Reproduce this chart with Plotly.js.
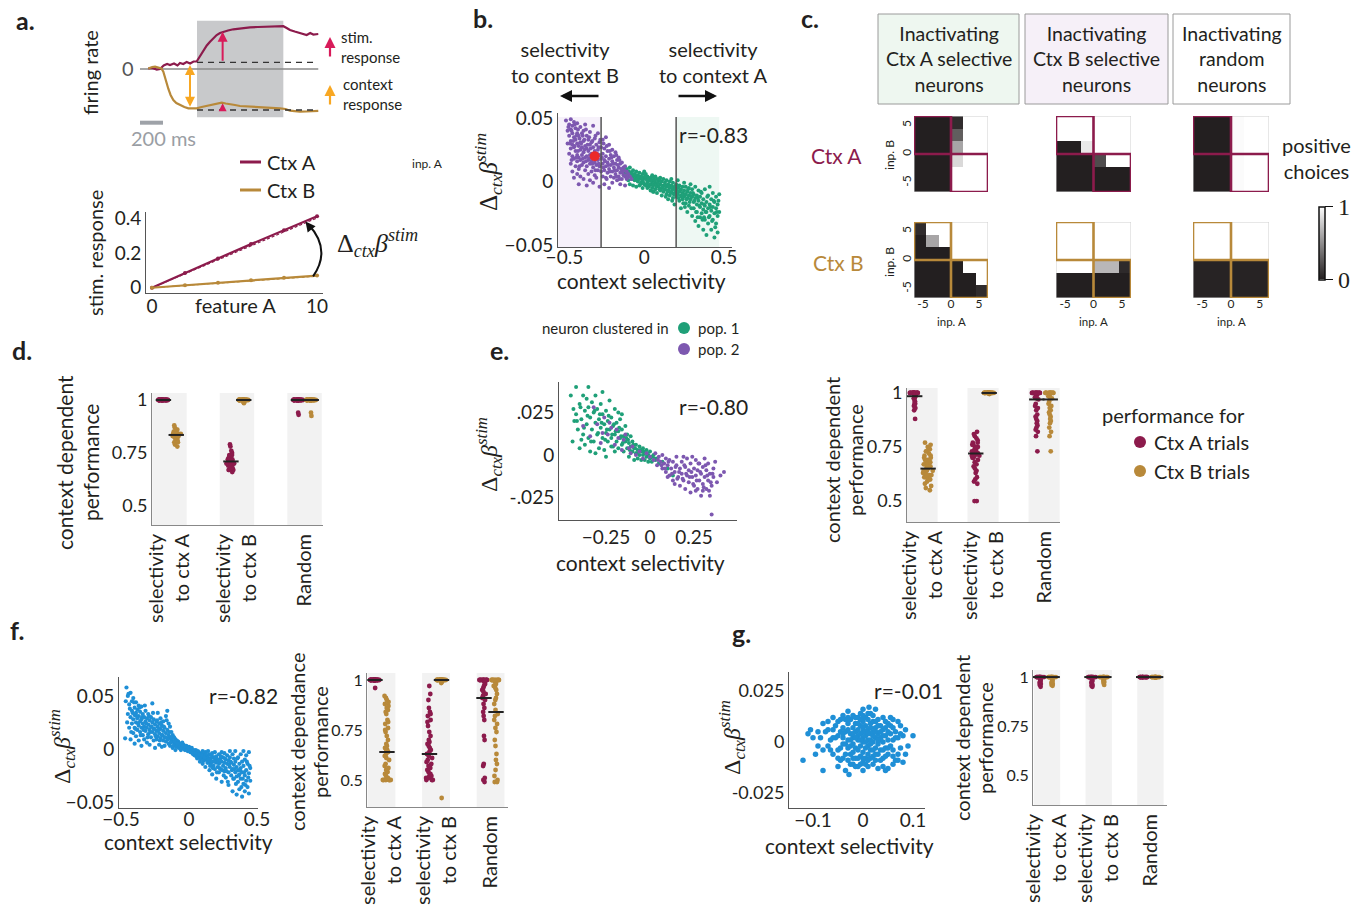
<!DOCTYPE html>
<html><head><meta charset="utf-8">
<script src="https://cdn.plot.ly/plotly-3.0.1.min.js"></script>
<style>html,body{margin:0;padding:0;background:#fff}#chart{width:1368px;height:910px}</style>
</head><body><div id="chart"></div>
<script>
// ---------------- DATA ----------------
// a (top): population firing rate (t in ms, stimulus onset at 0)
const tCtxA = [-424,-390,-350,-322,-290,-260,-235,-200,-170,-148,-120,-90,-60,-30,-3,25,55,85,113,142,171,200,229,270,316,380,461,530,606,660,722,751,780,809,850,896,925,954,985,1012,1055];
const rateCtxA = [0.05,0.1,-0.05,0.0,0.35,0.5,0.4,0.55,0.35,0.6,0.5,0.7,0.55,0.75,0.75,1.3,1.9,2.35,2.73,3.1,3.4,3.6,3.73,3.85,3.97,4.07,4.17,4.2,4.23,4.27,4.3,4.28,4.1,3.9,3.75,3.57,3.45,3.4,3.6,3.45,3.5];
const tCtxB = [-424,-390,-365,-330,-310,-293,-278,-263,-249,-230,-206,-180,-148,-110,-75,-40,-3,40,84,130,171,215,250,287,330,374,460,548,640,722,770,809,850,896,950,1000,1041,1055];
const rateCtxB = [0.05,0.2,0.23,0.1,0.05,-0.27,-0.9,-1.43,-2.0,-2.6,-3.1,-3.4,-3.6,-3.8,-3.93,-3.95,-3.93,-3.8,-3.7,-3.55,-3.43,-3.37,-3.45,-3.5,-3.6,-3.7,-3.75,-3.77,-3.85,-3.93,-4.0,-4.17,-4.22,-4.27,-4.25,-4.2,-4.2,-4.18];
const baseCtxA = 0.67, baseCtxB = -4.1;
// a (bottom): stimulus response vs feature A
const featA = [0,2,4,6,8,10];
const stimRespA = [0,0.085,0.168,0.25,0.33,0.41];
const stimRespB = [0,0.014,0.029,0.043,0.057,0.07];
const fitX = [0,10];
const fitA = [0,0.40];
const fitB = [0,0.066];

// b: context selectivity vs Δctx β_stim
const bPop2 = [[-.49,.048],[-.48,.04],[-.48,.03],[-.47,.045],[-.47,.036],[-.47,.022],[-.46,.049],[-.46,.041],[-.46,.032],[-.46,.026],[-.46,.014],[-.45,.044],[-.45,.038],[-.45,.029],[-.45,.02],[-.45,.008],[-.44,.047],[-.44,.035],[-.44,.027],[-.44,.018],[-.44,.003],
[-.43,.042],[-.43,.033],[-.43,.024],[-.43,.012],[-.42,.046],[-.42,.038],[-.42,.03],[-.42,.021],[-.42,.016],[-.42,.006],[-.41,.036],[-.41,.028],[-.41,.019],[-.41,.01],[-.41,-.002],[-.40,.043],[-.40,.031],[-.40,.025],[-.40,.017],[-.40,.004],[-.39,.038],[-.39,.027],[-.39,.021],[-.39,.013],
[-.38,.04],[-.38,.032],[-.38,.023],[-.38,.015],[-.38,.002],[-.37,.045],[-.37,.028],[-.37,.019],[-.37,.009],[-.36,.036],[-.36,.026],[-.36,.02],[-.36,.012],[-.36,-.003],[-.35,.033],[-.35,.024],[-.35,.017],[-.35,.006],[-.34,.039],[-.34,.029],[-.34,.021],[-.34,.014],[-.34,.001],[-.33,.031],[-.33,.022],[-.33,.016],[-.33,.008],
[-.32,.044],[-.32,.027],[-.32,.019],[-.32,.011],[-.32,-.001],[-.31,.034],[-.31,.024],[-.31,.015],[-.31,.005],[-.30,.029],[-.30,.02],[-.30,.013],[-.30,.003],[-.29,.038],[-.29,.025],[-.29,.017],[-.29,.009],[-.28,.031],[-.28,.021],[-.28,.012],[-.28,-.004],[-.27,.027],[-.27,.018],[-.27,.008],
[-.26,.033],[-.26,.022],[-.26,.014],[-.26,.004],[-.25,.026],[-.25,.017],[-.25,.009],[-.25,-.002],[-.24,.035],[-.24,.02],[-.24,.012],[-.24,.003],[-.23,.024],[-.23,.015],[-.23,.007],[-.22,.029],[-.22,.018],[-.22,.01],[-.22,-.005],[-.21,.021],[-.21,.013],[-.21,.004],[-.20,.025],[-.20,.016],[-.20,.008],[-.20,-.001],
[-.19,.02],[-.19,.011],[-.19,.003],[-.18,.023],[-.18,.014],[-.18,.006],[-.17,.017],[-.17,.009],[-.17,.001],[-.16,.019],[-.16,.011],[-.16,.004],[-.15,.014],[-.15,.007],[-.15,-.002],[-.14,.015],[-.14,.008],[-.14,.002],[-.13,.011],[-.13,.005],[-.12,.012],[-.12,.004],[-.12,-.003],[-.11,.008],[-.11,.002],[-.10,.006],[-.09,.004],[-.08,.002],
[-.475,.043],[-.465,.03],[-.455,.04],[-.455,.017],[-.445,.032],[-.435,.045],[-.435,.028],[-.425,.036],[-.425,.019],[-.415,.041],[-.415,.024],[-.405,.034],[-.405,.012],[-.395,.03],[-.385,.036],[-.385,.018],[-.375,.025],[-.375,.033],[-.365,.041],[-.365,.016],[-.355,.029],[-.345,.035],[-.345,.018],[-.335,.026],[-.325,.032],[-.325,.014],[-.315,.021],[-.305,.036],[-.305,.009],[-.295,.022],[-.285,.027],[-.285,.014],[-.275,.033],[-.265,.019],[-.255,.03],[-.255,.011],[-.245,.016],[-.235,.028],[-.235,.002],[-.225,.013],[-.215,.024],[-.215,.008],[-.205,.019],[-.195,.014],[-.185,.009],[-.175,.021],[-.175,.004],[-.165,.013],[-.155,.017],[-.155,.002],[-.145,.01],[-.135,.007],[-.125,.009],[-.115,.005],[-.105,.003]];
const bPop1 = [[-.12,.006],[-.11,.01],[-.11,.003],[-.10,.008],[-.10,.001],[-.09,.011],[-.09,.005],[-.09,-.002],[-.08,.007],[-.08,.002],[-.07,.009],[-.07,.004],[-.07,-.003],[-.06,.006],[-.06,.001],[-.05,.008],[-.05,.003],[-.05,-.004],
[-.04,.005],[-.04,0],[-.03,.007],[-.03,.002],[-.03,-.003],[-.02,.004],[-.02,-.001],[-.01,.006],[-.01,.001],[-.01,-.005],[0,.003],[0,-.002],[0,.008],[.01,.002],[.01,-.003],[.01,.006],[.02,0],[.02,-.005],[.02,.004],[.03,.001],[.03,-.004],[.04,.003],[.04,-.002],[.04,-.007],[.05,0],[.05,-.005],[.05,.005],
[.06,-.002],[.06,.003],[.06,-.008],[.07,-.001],[.07,-.006],[.07,.004],[.08,-.003],[.08,.002],[.08,-.009],[.09,-.004],[.09,.001],[.10,-.002],[.10,-.007],[.10,.003],[.11,-.005],[.11,0],[.11,-.011],[.12,-.003],[.12,-.008],[.12,.002],[.13,-.006],[.13,-.001],[.14,-.004],[.14,-.01],[.14,.001],[.15,-.007],[.15,-.002],[.15,-.014],
[.16,-.005],[.16,0],[.16,-.011],[.17,-.008],[.17,-.003],[.17,.002],[.18,-.006],[.18,-.013],[.18,-.001],[.19,-.009],[.19,-.004],[.19,-.018],[.2,-.007],[.2,-.002],[.2,-.012],[.21,-.01],[.21,-.005],[.21,.001],[.22,-.008],[.22,-.015],[.22,-.003],[.23,-.011],[.23,-.006],[.23,-.021],[.24,-.009],[.24,-.004],[.24,-.014],[.25,-.012],[.25,-.007],[.25,-.001],
[.26,-.01],[.26,-.017],[.26,-.004],[.27,-.013],[.27,-.008],[.27,-.024],[.28,-.011],[.28,-.005],[.28,-.019],[.29,-.014],[.29,-.009],[.29,-.002],[.3,-.012],[.3,-.027],[.3,-.006],[.31,-.016],[.31,-.01],[.31,-.021],[.32,-.013],[.32,-.004],[.32,-.031],[.33,-.018],[.33,-.011],[.33,-.024],[.34,-.015],[.34,-.007],[.34,-.035],[.35,-.02],[.35,-.012],[.35,-.028],
[.36,-.017],[.36,-.009],[.36,-.025],[.37,-.022],[.37,-.014],[.37,-.038],[.38,-.019],[.38,-.006],[.38,-.03],[.39,-.016],[.39,-.024],[.39,-.042],[.4,-.021],[.4,-.011],[.4,-.033],[.41,-.018],[.41,-.027],[.41,-.004],[.42,-.023],[.42,-.014],[.42,-.038],[.43,-.02],[.43,-.03],[.43,-.009],[.44,-.025],[.44,-.016],[.44,-.044],[.45,-.021],[.45,-.033],[.45,-.012],[.46,-.027],[.46,-.018],[.46,-.04],[.47,-.024],[.47,-.01],
[-.115,.007],[-.095,.008],[-.085,.004],[-.075,.006],[-.065,.002],[-.055,.005],[-.045,.002],[-.035,.004],[-.025,-.002],[-.015,.003],[-.005,-.001],[.005,.004],[.015,-.002],[.025,.002],[.035,-.002],[.045,.001],[.055,-.003],[.065,.001],[.075,-.004],[.085,-.001],[.095,-.006],[.105,0],[.115,-.004],[.125,-.006],[.135,-.003],[.145,-.008],[.155,-.004],[.165,-.009],[.175,-.005],[.185,-.01],[.195,-.006],[.205,-.009],[.215,-.013],[.225,-.007],[.235,-.012],[.245,-.017],[.255,-.01],[.265,-.014],[.275,-.006],[.285,-.016],[.295,-.021],[.305,-.009],[.315,-.015],[.325,-.024],[.335,-.013],[.345,-.019],[.355,-.008],[.365,-.03],[.375,-.018],[.385,-.024],[.395,-.012],[.405,-.028],[.415,-.02],[.425,-.031],[.435,-.015],[.445,-.036],[.455,-.024],[.465,-.015],[.375,-.028],[.335,-.028],[.295,-.012],[.255,-.02],[.215,-.004],[.175,-.015],[.135,-.012],[.095,.002],[.055,-.008]];
const bExample = [[-0.31,0.020]];
const bThresh = [-0.27, 0.20];

// c: fraction of positive choices (rows: inp. B from -5.5 to 5.5, cols: inp. A from -5.5 to 5.5)
const inpGrid = [-5.5,-3.3,-1.1,1.1,3.3,5.5];
const hmCtxA_inactA = [[0,0,0,1,1,1],[0,0,0,1,1,1],[0,0,0,.83,1,1],[0,0,0,.6,1,1],[0,0,0,.28,1,1],[0,0,0,.06,1,1]];
const hmCtxA_inactB = [[0,0,0,0,0,0],[0,0,0,0,0,0],[0,0,0,.2,1,1],[0,0,.9,1,1,1],[1,1,1,1,1,1],[1,1,1,1,1,1]];
const hmCtxA_random = [[0,0,0,.98,1,1],[0,0,0,.98,1,1],[0,0,0,.98,1,1],[0,0,0,.98,1,1],[0,0,0,.98,1,1],[0,0,0,.98,1,1]];
const hmCtxB_inactA = [[0,0,0,0,0,.06],[0,0,0,0,0,1],[0,0,0,0,1,1],[0,0,0,1,1,1],[0,.6,1,1,1,1],[.06,1,1,1,1,1]];
const hmCtxB_inactB = [[0,0,0,0,0,0],[0,0,0,0,0,0],[1,1,1,.68,.68,.05],[1,1,1,1,1,1],[1,1,1,1,1,1],[1,1,1,1,1,1]];
const hmCtxB_random = [[.02,.02,.02,.02,.02,.02],[.02,.02,.02,.02,.02,.02],[.02,.02,.02,.02,.02,.02],[1,1,1,1,1,1],[1,1,1,1,1,1],[1,1,1,1,1,1]];
const headerTexts = ['Inactivating<br>Ctx A selective<br>neurons','Inactivating<br>Ctx B selective<br>neurons','Inactivating<br>random<br>neurons'];

// strip plots: categories
const groupLabels = ['selectivity<br>to ctx A','selectivity<br>to ctx B','Random'];
// d
const dCtxA = [[1,1,1,1,1,1,1,1,1,1,1,1,1,1,1,1,1,1,1,1,1,1,1,1,1,1,1,1,1,1],
 [0.79,0.78,0.76,0.75,0.74,0.73,0.72,0.72,0.71,0.71,0.70,0.70,0.69,0.69,0.68,0.68,0.67,0.67,0.66,0.70,0.71,0.72,0.73,0.70,0.69,0.68,0.71,0.74,0.72,0.70,0.67,0.69,0.71,0.73,0.68,0.70],
 [1,1,1,1,1,1,1,1,1,1,1,1,1,1,1,1,1,1,1,1,1,1,1,1,1,1,1,1,1,1,0.93,0.94]];
const dCtxB = [[0.86,0.85,0.84,0.83,0.84,0.82,0.83,0.85,0.87,0.88,0.84,0.83,0.82,0.81,0.80,0.79,0.78,0.84,0.83,0.85,0.86,0.84,0.83,0.82,0.84,0.85,0.83,0.80,0.81,0.84],
 [1,1,1,1,1,1,1,1,1,1,1,1,1,1,1,1,1,1,1,1,1,1,1,1,1,1,1,1,1,1,0.985,0.99],
 [1,1,1,1,1,1,1,1,1,1,1,1,1,1,1,1,1,1,1,1,1,1,1,1,1,1,1,1,1,1,0.94,0.925]];
const dMedA = [1,0.71,1], dMedB = [0.835,1,1];
// e
const ePop1 = [[-.45,.035],[-.44,.008],[-.42,.04],[-.42,.024],[-.41,.015],[-.40,.03],[-.40,.004],[-.39,.021],[-.38,.035],[-.38,.012],[-.37,.026],[-.37,.006],[-.36,.033],[-.36,.018],[-.35,.028],[-.35,.01],[-.34,.022],[-.34,.002],[-.33,.031],[-.33,.015],[-.32,.025],[-.32,.008],[-.31,.019],[-.31,.035],[-.30,.012],[-.30,.027],[-.29,.021],[-.29,.004],[-.28,.016],[-.28,.03],[-.27,.01],[-.27,.024],[-.26,.018],[-.26,.003],[-.25,.013],[-.25,.026],[-.24,.008],[-.24,.02],[-.23,.015],[-.23,.032],[-.22,.01],[-.22,.022],[-.21,.005],[-.21,.017],[-.2,.012],[-.2,.027],[-.19,.008],[-.19,.019],[-.18,.004],[-.18,.014],[-.17,.01],[-.17,.021],[-.16,.006],[-.16,.015],[-.15,.002],[-.15,.011],[-.14,.008],[-.14,.017],[-.13,.004],[-.13,.012],[-.12,.007],[-.12,-.001],[-.11,.005],[-.11,.011],[-.1,.002],[-.1,.008],[-.09,.004],[-.09,-.003],[-.08,.006],[-.08,.001],[-.07,.003],[-.07,-.002],[-.06,.005],[-.06,0],[-.05,.002],[-.05,-.003],[-.04,.004],[-.04,0],[-.03,.001],[-.03,-.003],[-.02,.003],[-.02,-.001],[-.01,0],[-.01,-.004],[0,.002],[0,-.002],[.01,-.001],[.01,-.004],[.02,0],[.03,-.003],[.04,-.002],[.05,-.005],[.07,-.004],[.1,-.008],[.13,-.012],[-.43,.02],[-.39,.009],[-.35,.04],[-.31,.001],[-.27,.037],[-.25,-.001],[-.22,.005],[-.18,.025],[-.2,.002],[-.16,.024],
[-.435,.027],[-.415,.02],[-.395,.028],[-.375,.016],[-.355,.023],[-.335,.008],[-.315,.026],[-.295,.013],[-.275,.019],[-.255,.009],[-.235,.023],[-.215,.012],[-.195,.014],[-.175,.016],[-.155,.007],[-.135,.01],[-.115,.003],[-.095,.006],[-.075,.001],[-.055,.003],[-.035,.002],[-.015,.001],[.005,-.001],[.025,-.002],[-.285,.024],[-.245,.015],[-.205,.018],[-.165,.011],[-.125,.009],[-.085,.004]];
const ePop2 = [[-.38,.017],[-.34,.011],[-.32,.028],[-.3,.018],[-.28,.007],[-.26,.022],[-.24,.012],[-.22,.016],[-.2,.006],[-.18,.01],[-.16,.003],[-.14,.012],[-.12,.004],[-.1,.005],[-.08,0],[-.06,.002],[-.04,-.002],[-.02,.001],[0,-.001],
[.02,-.003],[.03,.001],[.04,-.006],[.05,-.001],[.06,-.004],[.07,-.008],[.07,0],[.08,-.005],[.09,-.002],[.09,-.01],[.1,-.006],[.11,-.003],[.11,-.012],[.12,-.008],[.13,-.004],[.13,-.015],[.14,-.01],[.15,-.006],[.15,-.001],[.16,-.013],[.17,-.008],[.17,-.018],[.18,-.004],[.18,-.011],[.19,-.015],[.2,-.007],[.2,-.02],[.21,-.012],[.21,-.002],[.22,-.016],[.22,-.009],[.23,-.005],[.23,-.022],[.24,-.013],[.25,-.008],[.25,-.018],[.26,-.003],[.26,-.012],[.27,-.02],[.27,-.009],[.28,-.015],[.28,-.005],[.29,-.011],[.29,-.024],[.3,-.017],[.3,-.007],[.31,-.013],[.31,-.002],[.32,-.02],[.32,-.009],[.33,-.015],[.33,-.005],[.34,-.011],[.34,-.024],[.35,-.035],[.35,-.018],[.36,-.008],[.36,-.013],[.37,-.004],[.38,-.016],[.4,-.012],[.42,-.01],[.3,-.021],[.26,-.021],[.24,-.001],[.19,-.001],[.14,-.017],[.1,-.013],
[.045,-.003],[.065,-.006],[.085,-.008],[.105,-.004],[.125,-.011],[.145,-.007],[.165,-.01],[.185,-.014],[.205,-.011],[.225,-.013],[.245,-.017],[.265,-.015],[.285,-.01],[.305,-.019],[.325,-.012],[.345,-.016],[.155,-.014],[.195,-.006],[.235,-.01],[.275,-.005],[.315,-.006],[.335,-.021],[.355,-.011],[-.27,.013],[-.23,.019],[-.19,.015],[-.15,.009],[-.11,.001]];
const eCtxA = [[1,1,1,1,1,1,1,1,1,1,1,1,1,1,1,1,1,1,1,1,0.99,0.985,0.98,0.975,0.97,0.96,0.955,0.95,0.945,0.94,0.93,0.92,0.88],
 [0.82,0.81,0.80,0.79,0.78,0.77,0.77,0.76,0.75,0.75,0.74,0.74,0.73,0.73,0.72,0.72,0.72,0.71,0.71,0.70,0.70,0.69,0.68,0.67,0.66,0.65,0.64,0.63,0.61,0.60,0.59,0.58,0.50,0.50,0.76,0.73,0.71],
 [1,1,1,1,1,1,1,1,1,1,1,1,1,1,1,0.99,0.985,0.98,0.975,0.97,0.95,0.94,0.93,0.92,0.90,0.89,0.88,0.87,0.86,0.85,0.84,0.83,0.82,0.80,0.73]];
const eCtxB = [[0.77,0.76,0.75,0.74,0.73,0.73,0.72,0.71,0.70,0.70,0.69,0.68,0.68,0.67,0.66,0.66,0.65,0.65,0.64,0.64,0.63,0.63,0.62,0.62,0.61,0.61,0.60,0.60,0.59,0.58,0.57,0.56,0.55,0.66,0.67,0.69,0.71,0.64,0.62,0.60],
 [1,1,1,1,1,1,1,1,1,1,1,1,1,1,1,1,1,1,1,1,1,1,1,1,1,1,1,1,1,1,0.995],
 [1,1,1,1,1,1,1,1,1,1,1,1,1,1,1,0.99,0.985,0.98,0.975,0.96,0.95,0.94,0.93,0.92,0.91,0.90,0.89,0.88,0.87,0.86,0.84,0.82,0.80,0.73]];
const eMedA = [0.985,0.72,0.97], eMedB = [0.65,1,0.97];
// f
const fPts = [[-.47,.01],[-.46,.058],[-.45,.05],[-.45,.033],[-.44,.042],[-.44,.02],[-.43,.053],[-.43,.03],[-.43,.009],[-.42,.045],[-.42,.036],[-.42,.024],[-.41,.048],[-.41,.028],[-.41,.015],[-.4,.039],[-.4,.032],[-.4,.02],[-.4,.005],[-.39,.044],[-.39,.034],[-.39,.025],[-.39,.012],[-.38,.037],[-.38,.029],[-.38,.018],[-.37,.041],[-.37,.031],[-.37,.022],[-.37,.008],[-.36,.035],[-.36,.026],[-.36,.016],[-.35,.04],[-.35,.028],[-.35,.02],[-.35,.003],[-.34,.033],[-.34,.024],[-.34,.013],[-.33,.03],[-.33,.021],[-.33,.009],[-.32,.036],[-.32,.026],[-.32,.017],[-.31,.029],[-.31,.02],[-.31,.006],[-.3,.033],[-.3,.023],[-.3,.014],[-.29,.027],[-.29,.018],[-.29,.004],[-.28,.03],[-.28,.021],[-.28,.011],[-.27,.025],[-.27,.016],[-.27,.043],[-.26,.028],[-.26,.019],[-.26,.008],[-.25,.023],[-.25,.014],[-.25,.001],[-.24,.026],[-.24,.017],[-.24,.009],[-.23,.021],[-.23,.012],[-.23,.034],[-.22,.024],[-.22,.015],[-.22,.004],[-.21,.019],[-.21,.01],[-.21,.029],[-.2,.022],[-.2,.013],[-.2,.002],[-.19,.017],[-.19,.008],[-.19,.026],[-.18,.02],[-.18,.011],[-.18,.003],[-.17,.015],[-.17,.007],[-.17,.031],[-.16,.018],[-.16,.01],[-.16,.036],[-.15,.013],[-.15,.005],[-.15,.024],[-.14,.011],[-.14,.003],[-.14,.021],[-.13,.009],[-.13,.016],[-.12,.007],[-.12,.001],[-.12,.013],[-.11,.006],[-.11,.011],[-.1,.004],[-.1,.009],[-.1,-.001],[-.09,.005],[-.09,.008],[-.08,.003],[-.08,.007],[-.07,.002],[-.07,.005],[-.06,.004],[-.06,-.001],[-.05,.003],[-.05,.006],[-.04,.001],[-.04,.004],[-.03,.002],[-.03,-.001],[-.02,.003],[-.02,0],[-.01,.001],[-.01,-.002],[0,0],[0,.002],[.01,-.001],[.01,-.003],[.02,-.002],[.02,.001],[.03,-.003],[.03,-.005],[.04,-.002],[.04,-.006],[.05,-.004],[.05,-.001],[.06,-.005],[.06,-.009],[.07,-.003],[.07,-.007],[.08,-.006],[.08,-.012],[.09,-.004],[.09,-.009],[.1,-.007],[.1,-.002],[.1,-.014],[.11,-.005],[.11,-.011],[.12,-.008],[.12,-.003],[.12,-.017],[.13,-.01],[.13,-.006],[.14,-.013],[.14,-.002],[.14,-.008],[.15,-.011],[.15,-.005],[.15,-.02],[.16,-.009],[.16,-.014],[.17,-.004],[.17,-.012],[.17,-.024],[.18,-.008],[.18,-.016],[.19,-.011],[.19,-.003],[.19,-.019],[.2,-.013],[.2,-.007],[.2,-.028],[.21,-.01],[.21,-.017],[.22,-.005],[.22,-.014],[.22,-.022],[.23,-.009],[.23,-.019],[.24,-.012],[.24,-.003],[.24,-.031],[.25,-.016],[.25,-.008],[.26,-.021],[.26,-.013],[.26,-.004],[.27,-.018],[.27,-.01],[.27,-.027],[.28,-.014],[.28,-.006],[.29,-.022],[.29,-.011],[.29,-.034],[.3,-.017],[.3,-.008],[.3,-.002],[.31,-.025],[.31,-.013],[.32,-.019],[.32,-.005],[.32,-.04],[.33,-.015],[.33,-.028],[.33,-.009],[.34,-.022],[.34,-.012],[.34,-.002],[.35,-.026],[.35,-.017],[.35,-.043],[.36,-.02],[.36,-.008],[.36,-.031],[.37,-.014],[.37,-.024],[.37,-.038],[.38,-.018],[.38,-.005],[.38,-.028],[.39,-.022],[.39,-.012],[.39,-.045],[.4,-.016],[.4,-.033],[.4,-.002],[.41,-.025],[.41,-.01],[.41,-.04],[.42,-.02],[.42,-.03],[.42,-.006],[.43,-.014],[.43,-.036],[.44,-.023],[.44,-.003],[.44,-.042],[.45,-.018],[.45,-.03],
[-.465,.045],[-.455,.025],[-.445,.052],[-.435,.038],[-.425,.016],[-.415,.034],[-.405,.044],[-.395,.019],[-.385,.031],[-.375,.024],[-.365,.039],[-.355,.013],[-.345,.03],[-.335,.018],[-.325,.041],[-.315,.024],[-.305,.011],[-.295,.031],[-.285,.016],[-.275,.021],[-.265,.034],[-.255,.019],[-.245,.012],[-.235,.027],[-.225,.018],[-.215,.008],[-.205,.025],[-.195,.013],[-.185,.021],[-.175,.011],[-.165,.027],[-.155,.009],[-.145,.016],[-.135,.006],[-.125,.01],[-.115,.003],[-.105,.007],[-.095,.002],[-.085,.005],[-.075,.001],[-.065,.003],[-.055,.001],[-.045,.003],[-.035,0],[-.025,.002],[-.015,-.001],[-.005,.001],[.005,-.002],[.015,0],[.025,-.004],[.035,-.001],[.045,-.004],[.055,-.007],[.065,-.002],[.075,-.005],[.085,-.009],[.095,-.006],[.105,-.011],[.115,-.008],[.125,-.005],[.135,-.013],[.145,-.01],[.155,-.016],[.165,-.006],[.175,-.018],[.185,-.012],[.195,-.008],[.205,-.022],[.215,-.012],[.225,-.018],[.235,-.007],[.245,-.02],[.255,-.025],[.265,-.009],[.275,-.021],[.285,-.031],[.295,-.015],[.305,-.012],[.315,-.02],[.325,-.028],[.335,-.019],[.345,-.033],[.355,-.009],[.365,-.025],[.375,-.02],[.385,-.036],[.395,-.028],[.405,-.022],[.415,-.034],[.425,-.012],[.435,-.027],[.445,-.016]];
const fCtxA = [[1,1,1,1,1,1,1,1,1,1,1,1,1,1,1,1,1,1,1,1,1,1,1,1,1,1,1,1,1,1,0.96],
 [0.97,0.93,0.90,0.86,0.84,0.83,0.82,0.80,0.79,0.77,0.74,0.72,0.70,0.69,0.68,0.67,0.66,0.65,0.64,0.63,0.63,0.62,0.61,0.60,0.59,0.58,0.57,0.56,0.55,0.54,0.53,0.52,0.52,0.51,0.51,0.50,0.50,0.50],
 [1,1,1,1,1,1,1,1,1,1,1,1,0.99,0.98,0.97,0.96,0.95,0.94,0.93,0.92,0.91,0.90,0.88,0.86,0.84,0.82,0.80,0.72,0.70,0.58,0.57,0.51,0.50,0.49]];
const fCtxB = [[0.92,0.91,0.90,0.89,0.88,0.87,0.86,0.85,0.84,0.83,0.80,0.79,0.78,0.76,0.75,0.74,0.72,0.70,0.68,0.67,0.66,0.65,0.65,0.64,0.64,0.63,0.62,0.61,0.60,0.58,0.57,0.56,0.55,0.54,0.53,0.52,0.51,0.51,0.50,0.50,0.50,0.50,0.50,0.50],
 [1,1,1,1,1,1,1,1,1,1,1,1,1,1,1,1,1,1,1,1,1,1,1,1,1,0.99,0.985,0.41],
 [1,1,1,1,1,1,1,1,1,1,0.99,0.98,0.97,0.96,0.95,0.93,0.91,0.90,0.88,0.85,0.83,0.82,0.80,0.78,0.76,0.74,0.70,0.67,0.63,0.60,0.58,0.55,0.52,0.50,0.49,0.49]];
const fMedA = [1,0.63,0.91], fMedB = [0.64,1,0.84];
// g
const gPts = [[-.12,-.009],[-.11,.004],[-.1,.002],[-.09,.005],[-.09,-.002],[-.08,.009],[-.08,-.014],[-.08,-.004],[-.07,.01],[-.07,-.002],[-.06,.006],[-.06,-.006],[-.06,.012],[-.05,.003],[-.05,-.004],[-.05,.01],[-.05,-.012],[-.04,.007],[-.04,-.001],[-.04,-.008],[-.04,.013],[-.04,.002],[-.035,-.014],[-.035,.005],[-.03,.009],[-.03,-.003],[-.03,.001],[-.03,-.009],[-.03,.015],[-.025,.004],[-.025,-.006],[-.025,.011],[-.02,.002],[-.02,-.001],[-.02,.007],[-.02,-.011],[-.02,.013],[-.02,-.005],[-.015,.005],[-.015,-.003],[-.015,.009],[-.015,-.008],[-.01,.001],[-.01,.006],[-.01,-.004],[-.01,.012],[-.01,-.012],[-.01,.003],[-.005,-.002],[-.005,.008],[-.005,-.007],[-.005,.004],[-.005,.014],[0,0],[0,.005],[0,-.005],[0,.01],[0,-.01],[0,.016],[0,.002],[0,-.014],[.005,.003],[.005,-.003],[.005,.008],[.005,-.008],[.005,.012],[.01,.001],[.01,-.002],[.01,.006],[.01,-.006],[.01,.011],[.01,-.012],[.015,.004],[.015,-.004],[.015,.009],[.015,.014],[.02,0],[.02,.005],[.02,-.007],[.02,.01],[.02,-.011],[.025,.002],[.025,-.003],[.025,.007],[.025,.016],[.03,-.001],[.03,.004],[.03,-.006],[.03,.011],[.03,-.013],[.035,.002],[.035,-.004],[.035,.008],[.04,0],[.04,.006],[.04,-.008],[.04,.012],[.045,-.003],[.045,.003],[.05,.001],[.05,-.006],[.05,.009],[.05,-.013],[.055,.004],[.055,-.002],[.06,.007],[.06,-.004],[.06,.001],[.065,-.009],[.065,.005],[.07,.002],[.07,-.006],[.07,.01],[.075,-.003],[.075,.008],[.08,-.01],[.08,.003],[.09,-.002],[.1,.003],[-.105,.006],[-.055,.002],[-.045,.005],[-.035,-.001],[-.025,.001],[.015,.001],[.035,.001],[.045,.01],[-.065,.001],[-.075,.005],[.025,-.009],[-.015,.002],[.005,0],[-.045,-.003],[.055,.012],[.06,-.011],[-.005,-.011],[.012,.017],[-.028,-.016],[.045,-.014],
[-.095,-.006],[-.085,.002],[-.065,-.004],[-.055,.008],[-.045,-.009],[-.04,.004],[-.035,.011],[-.03,.006],[-.025,-.011],[-.02,.004],[-.015,.012],[-.015,-.012],[-.01,-.008],[-.005,.001],[-.005,.011],[0,.007],[0,-.008],[.005,.005],[.005,-.011],[.01,.004],[.01,-.009],[.015,-.001],[.015,.007],[.02,.003],[.02,-.004],[.02,.013],[.025,.005],[.025,-.006],[.03,.008],[.03,.001],[.035,-.009],[.035,.005],[.04,.003],[.04,-.004],[.045,.007],[.05,-.003],[.05,.005],[.055,.008],[.06,-.007],[.065,.002],[.07,-.009],[.075,.004],[.085,-.006],[.085,.006],[-.06,.002],[-.05,-.008],[-.045,.011],[-.03,.012],[-.02,-.008],[-.01,.009],[0,.013],[.01,.014],[.025,.01],[.04,-.012],[-.07,.006],[-.035,-.006],[.06,.011],[.045,-.007],[-.025,-.002],[.015,-.008]];
const gCtxA = [[1,1,1,1,1,1,1,1,1,1,1,1,1,1,1,0.995,0.99,0.985,0.98,0.975,0.97,0.965,0.96,0.95],
 [1,1,1,1,1,1,1,1,1,1,1,1,1,1,1,0.995,0.99,0.985,0.98,0.975,0.97,0.96,0.955,0.95],
 [1,1,1,1,1,1,1,1,1,1,1,1,1,1,1,1,1,1,1,1]];
const gCtxB = [[1,1,1,1,1,1,1,1,1,1,1,1,1,1,1,0.995,0.99,0.985,0.98,0.975,0.97,0.965,0.96,0.955],
 [1,1,1,1,1,1,1,1,1,1,1,1,1,1,1,0.995,0.99,0.985,0.98,0.975,0.97,0.96],
 [1,1,1,1,1,1,1,1,1,1,1,1,1,1,1,1,1,1,0.997]];
const gMedA = [1,1,1], gMedB = [1,1,1];
const rValues = ['r=-0.83','r=-0.80','r=-0.82','r=-0.01'];

// ---------------- STYLE / LAYOUT ----------------
const W = 1368, H = 910;
const FONT = 'Lato, "Open Sans", sans-serif';
const SERIF = '"Liberation Serif","DejaVu Serif",serif';
const INK = '#231f20';
const MAROON = '#8c1b4c', GOLD = '#b8893a', PURPLE = '#7d58b0', GREEN = '#1fa078', BLUE = '#1f8fd6', RED = '#ec2a2a';
const PINK = '#d81b5a', ORANGE = '#f8a722';
const DELTA = 'Δ<sub><i>ctx</i></sub><i>β</i><sup><i>stim</i></sup>';

const traces = [], shapes = [], annotations = [];
const layout = {width: W, height: H, margin: {l:0, r:0, t:0, b:0}, paper_bgcolor: '#fff', plot_bgcolor: 'rgba(0,0,0,0)',
  font: {family: FONT, color: INK, size: 18}, showlegend: false, boxmode: 'overlay', hovermode: false};

const k = n => (n === 1 ? '' : String(n));
const X = px => px / W, Y = py => 1 - py / H;
function axes(n, x0, x1, xr, y0, y1, yr, xo, yo) {
  const base = {showgrid:false, zeroline:false, showline:false, ticks:'', showticklabels:false, fixedrange:true};
  layout['xaxis' + k(n)] = Object.assign({}, base, {domain:[X(x0), X(x1)], range:xr, anchor:'y' + k(n)}, xo || {});
  layout['yaxis' + k(n)] = Object.assign({}, base, {domain:[Y(y1), Y(y0)], range:yr, anchor:'x' + k(n)}, yo || {});
}
function A(text, x, y, o) {
  o = o || {};
  const a = {text, x: X(x), y: Y(y), xref:'paper', yref:'paper', showarrow:false, xanchor:'center', yanchor:'middle',
    font:{family: FONT, size: 20, color: INK}};
  if (o.size) a.font.size = o.size;
  if (o.color) a.font.color = o.color;
  if (o.family) a.font.family = o.family;
  ['xanchor','yanchor','textangle','align'].forEach(p => { if (o[p] !== undefined) a[p] = o[p]; });
  annotations.push(a);
}
const spine = (vals, txt, size, standoff) => ({showline:true, linecolor:'#555', linewidth:1, showticklabels:true, tickvals:vals, ticktext:txt,
  tickfont:{size:size, color:INK}, ticklabelstandoff: standoff || 0});
const xs = a => a.map(p => p[0]), ys = a => a.map(p => p[1]);

// ---- a (top): firing rate
axes(1, 120, 330, [-670, 1157], 15, 125, [-5.6, 5.4]);
shapes.push({type:'rect', xref:'x', yref:'y', x0:0, x1:751, y0:-4.83, y1:4.83, fillcolor:'#c8c9cb', line:{width:0}, layer:'below'});
shapes.push({type:'line', xref:'x', yref:'y', x0:-496, x1:1055, y0:0, y1:0, line:{color:'#8a8a8a', width:1.5}, layer:'below'});
shapes.push({type:'line', xref:'x', yref:'y', x0:0, x1:1040, y0:baseCtxA, y1:baseCtxA, line:{color:'#333', width:1.3, dash:'6px,5px'}});
shapes.push({type:'line', xref:'x', yref:'y', x0:0, x1:1040, y0:baseCtxB, y1:baseCtxB, line:{color:'#333', width:1.3, dash:'6px,5px'}});
shapes.push({type:'line', xref:'x', yref:'y', x0:-496, x1:-296, y0:-5.37, y1:-5.37, line:{color:'#9ea2a8', width:4}});
traces.push({type:'scatter', mode:'lines', x:tCtxA, y:rateCtxA, line:{color:MAROON, width:2.2}, xaxis:'x', yaxis:'y'});
traces.push({type:'scatter', mode:'lines', x:tCtxB, y:rateCtxB, line:{color:GOLD, width:2.2}, xaxis:'x', yaxis:'y'});
function dataArrow(xr, yr, x, y, axv, ayv, color, both, width) {
  annotations.push({xref:xr, yref:yr, axref:xr, ayref:yr, x, y, ax:axv, ay:ayv, text:'', showarrow:true,
    arrowhead:2, startarrowhead:2, arrowside: both ? 'end+start' : 'end', arrowsize:1, arrowwidth:width || 2, arrowcolor:color, standoff:0, startstandoff:0});
}
dataArrow('x','y', 223, 3.73, 223, baseCtxA, PINK);
dataArrow('x','y', 223, -3.43, 223, baseCtxB, PINK, false, 1.6);
dataArrow('x','y', -61, 0.4, -61, -3.93, ORANGE, true);
function pxArrow(x, y, axv, ayv, color, w) {
  annotations.push({xref:'paper', yref:'paper', x:X(x), y:Y(y), ax:axv, ay:ayv, text:'', showarrow:true, arrowhead:2, arrowsize:1, arrowwidth:w || 2, arrowcolor:color, standoff:0});
}
pxArrow(330, 37, 0, 21, PINK, 2.2);
pxArrow(330, 85, 0, 21, ORANGE, 2.2);
A('firing rate', 90, 73, {textangle:-90});
A('0', 128, 68, {color:'#555'});
A('200 ms', 163, 138, {color:'#9a9ea4'});
A('stim.<br>response', 339, 47, {size:15, xanchor:'left', align:'left'});
A('context<br>response', 341, 94, {size:15, xanchor:'left', align:'left'});

// ---- a (bottom): stimulus response
axes(2, 146, 323, [-0.36, 10.36], 212, 293, [-0.03, 0.434], spine([0,10],['0','10'],19,-4), spine([0,0.2,0.4],['0','0.2','0.4'],19));
traces.push({type:'scatter', mode:'lines', x:fitX, y:fitA, line:{color:MAROON, width:1.2, dash:'3px,2px'}, xaxis:'x2', yaxis:'y2'});
traces.push({type:'scatter', mode:'lines', x:fitX, y:fitB, line:{color:GOLD, width:1.2, dash:'3px,2px'}, xaxis:'x2', yaxis:'y2'});
traces.push({type:'scatter', mode:'lines+markers', x:featA, y:stimRespA, line:{color:MAROON, width:2.2}, marker:{size:4, color:MAROON}, xaxis:'x2', yaxis:'y2'});
traces.push({type:'scatter', mode:'lines+markers', x:featA, y:stimRespB, line:{color:GOLD, width:2.2}, marker:{size:4, color:GOLD}, xaxis:'x2', yaxis:'y2'});
shapes.push({type:'path', xref:'x2', yref:'y2', path:'M 9.76,0.065 Q 10.9,0.22 9.45,0.365', line:{color:'#111', width:2}});
annotations.push({xref:'x2', yref:'y2', x:9.3, y:0.38, ax:7, ay:9, text:'', showarrow:true, arrowhead:2, arrowsize:1, arrowwidth:2, arrowcolor:'#111', standoff:0});
shapes.push({type:'line', xref:'paper', yref:'paper', x0:X(240), x1:X(261), y0:Y(162), y1:Y(162), line:{color:MAROON, width:3}});
shapes.push({type:'line', xref:'paper', yref:'paper', x0:X(240), x1:X(261), y0:Y(190), y1:Y(190), line:{color:GOLD, width:3}});
A('Ctx A', 265, 162, {xanchor:'left'});
A('Ctx B', 265, 190, {xanchor:'left'});
A('inp. A', 427, 163, {size:12});
A('stim. response', 95, 253, {textangle:-90});
A('feature A', 235, 305);
A(DELTA, 377, 243, {family:SERIF, size:26});

// ---- b
axes(3, 558, 732, [-0.54, 0.55], 113, 247, [-0.0515, 0.054], spine([-0.5,0,0.5],['−0.5','0','0.5'],19,-7), spine([-0.05,0,0.05],['−0.05','0','0.05'],19));
shapes.push({type:'rect', xref:'x3', yref:'y3 domain', x0:-0.54, x1:bThresh[0], y0:0, y1:0.97, fillcolor:'#f6f1fa', line:{width:0}, layer:'below'});
shapes.push({type:'rect', xref:'x3', yref:'y3 domain', x0:bThresh[1], x1:0.47, y0:0, y1:0.97, fillcolor:'#eef8f3', line:{width:0}, layer:'below'});
bThresh.forEach(v => shapes.push({type:'line', xref:'x3', yref:'y3 domain', x0:v, x1:v, y0:0, y1:0.97, line:{color:'#555', width:1.5}}));
traces.push({type:'scatter', mode:'markers', x:xs(bPop1), y:ys(bPop1), marker:{color:GREEN, size:4}, xaxis:'x3', yaxis:'y3'});
traces.push({type:'scatter', mode:'markers', x:xs(bPop2), y:ys(bPop2), marker:{color:PURPLE, size:4}, xaxis:'x3', yaxis:'y3'});
traces.push({type:'scatter', mode:'markers', x:xs(bExample), y:ys(bExample), marker:{color:RED, size:10}, xaxis:'x3', yaxis:'y3'});
A('selectivity<br>to context B', 565, 62, {size:20});
A('selectivity<br>to context A', 713, 62, {size:20});
pxArrow(560, 96, 40, 0, '#111', 2.4);
pxArrow(717, 96, -40, 0, '#111', 2.4);
A(rValues[0], 714, 134, {size:21});
A(DELTA, 488, 172, {family:SERIF, size:25, textangle:-90});
A('context selectivity', 641, 280, {size:21});

// ---- c heatmaps
const hmCols = [[914,988],[1056,1131],[1193,1269]];
const hmRows = [[116,192],[222,298]];
const hmData = [[hmCtxA_inactA, hmCtxA_inactB, hmCtxA_random],[hmCtxB_inactA, hmCtxB_inactB, hmCtxB_random]];
const ctxColor = [MAROON, GOLD];
const R = 6.6;
for (let r = 0; r < 2; r++) for (let c = 0; c < 3; c++) {
  const n = 4 + r * 3 + c;
  const xo = (r === 1) ? {showticklabels:true, tickvals:[-5,0,5], ticktext:['-5','0','5'], tickfont:{size:12, color:INK}, ticklabelstandoff:-3} : {};
  const yo = (c === 0) ? {showticklabels:true, tickvals:[-5,0,5], ticktext:['-5','0','5'], tickangle:-90, tickfont:{size:12, color:INK}} : {};
  axes(n, hmCols[c][0], hmCols[c][1], [-R, R], hmRows[r][0], hmRows[r][1], [-R, R], xo, yo);
  const tr = {type:'heatmap', x:inpGrid, y:inpGrid, z:hmData[r][c], zmin:0, zmax:1,
    colorscale:[[0,'#231f20'],[1,'#ffffff']], showscale:false, xaxis:'x' + k(n), yaxis:'y' + k(n)};
  if (n === 4) {
    tr.showscale = true;
    tr.colorbar = {x:X(1309), xanchor:'left', y:Y(243), yanchor:'middle', len:93/H, lenmode:'fraction', thickness:6,
      outlinewidth:1.5, outlinecolor:'#111', tickvals:[0,1], ticktext:['0','1'], ticks:'outside', ticklen:8, tickcolor:'#111', tickwidth:1.5,
      tickfont:{family:SERIF, size:24, color:INK}};
  }
  traces.push(tr);
  shapes.push({type:'rect', xref:'x' + k(n), yref:'y' + k(n), x0:-R, x1:R, y0:-R, y1:R, line:{color:'#cfcfcf', width:1}});
  shapes.push({type:'rect', xref:'x' + k(n), yref:'y' + k(n), x0:-R, x1:0, y0:0, y1:R, line:{color:ctxColor[r], width:2.6}});
  shapes.push({type:'rect', xref:'x' + k(n), yref:'y' + k(n), x0:0, x1:R, y0:-R, y1:0, line:{color:ctxColor[r], width:2.6}});
  if (r === 1) A('inp. A', (hmCols[c][0] + hmCols[c][1]) / 2, 321, {size:11.5});
}
A('inp. B', 889, 155, {size:12, textangle:-90});
A('inp. B', 889, 262, {size:12, textangle:-90});
const hdrBoxes = [[878,1019,'#eef7f0'],[1025,1168,'#f6f0f8'],[1173,1290,'#ffffff']];
hdrBoxes.forEach((b, i) => {
  shapes.push({type:'rect', xref:'paper', yref:'paper', x0:X(b[0]), x1:X(b[1]), y0:Y(104), y1:Y(14), fillcolor:b[2], line:{color:'#9a9a9a', width:1}, layer:'below'});
  A(headerTexts[i], (b[0] + b[1]) / 2, 59, {size:19.5});
});
A('Ctx A', 836, 155, {size:21, color:MAROON});
A('Ctx B', 838, 262, {size:21, color:GOLD});
A('positive<br>choices', 1316, 158, {size:20});

// ---- strip plots
function stripPanel(n, x0, x1, xr, y0, y1, yr, offA, offB, w, tfs, valsA, valsB, medA, medB) {
  axes(n, x0, x1, xr, y0, y1, yr,
    Object.assign(spine([0,1,2], groupLabels, 20), {tickangle:-90, linecolor:'#888'}),
    Object.assign(spine([0.5,0.75,1], ['0.5','0.75','1'], tfs), {linecolor:'#888'}));
  for (let g = 0; g < 3; g++) {
    shapes.push({type:'rect', xref:'x' + k(n), yref:'y' + k(n) + ' domain', x0:g - 0.255, x1:g + 0.255, y0:0, y1:1, fillcolor:'#f2f2f2', line:{width:0}, layer:'below'});
    [[valsA[g], offA, MAROON], [valsB[g], offB, GOLD]].forEach(s => {
      traces.push({type:'box', x:s[0].map(() => g + s[1]), y:s[0], xaxis:'x' + k(n), yaxis:'y' + k(n), boxpoints:'all', jitter:0.9, pointpos:0,
        width:w, fillcolor:'rgba(0,0,0,0)', line:{width:0, color:'rgba(0,0,0,0)'}, whiskerwidth:0, marker:{color:s[2], size:4.8}, hoverinfo:'skip'});
    });
  }
  traces.push({type:'scatter', mode:'markers', x:[0,1,2].map(g => g + offA).concat([0,1,2].map(g => g + offB)), y:medA.concat(medB),
    marker:{symbol:'line-ew', size:11, line:{width:2, color:'#222'}}, xaxis:'x' + k(n), yaxis:'y' + k(n)});
}
function perfLabel(x1, x2, y, size, first) {
  A(first || 'context dependent', x1, y, {textangle:-90, size:size});
  A('performance', x2, y, {textangle:-90, size:size});
}
// d
stripPanel(10, 152, 323, [-0.259, 2.274], 393, 525, [0.41, 1.033], -0.09, 0.1, 0.17, 18, dCtxA, dCtxB, dMedA, dMedB);
perfLabel(64, 90, 463, 21);
// e scatter
axes(11, 559, 737, [-0.517, 0.494], 382, 520, [-0.0382, 0.0429], spine([-0.25,0,0.25],['−0.25','0','0.25'],19), spine([-0.025,0,0.025],['-.025','0','.025'],19));
traces.push({type:'scatter', mode:'markers', x:xs(ePop1), y:ys(ePop1), marker:{color:GREEN, size:4}, xaxis:'x11', yaxis:'y11'});
traces.push({type:'scatter', mode:'markers', x:xs(ePop2), y:ys(ePop2), marker:{color:PURPLE, size:4}, xaxis:'x11', yaxis:'y11'});
A(rValues[1], 714, 407, {size:21});
A(DELTA, 489, 455, {family:SERIF, size:24, textangle:-90});
A('context selectivity', 640, 562, {size:21});
A('neuron clustered in', 671, 328, {size:15, xanchor:'right'});
A('pop. 1', 696, 328, {size:15, xanchor:'left'});
A('pop. 2', 696, 349, {size:15, xanchor:'left'});
const dot = (cx, cy, r, col) => shapes.push({type:'circle', xref:'paper', yref:'paper', x0:X(cx - r), x1:X(cx + r), y0:Y(cy + r), y1:Y(cy - r), fillcolor:col, line:{width:0}});
dot(684, 328, 6, GREEN); dot(684, 349, 6, PURPLE);
// e strip
stripPanel(12, 907, 1060, [-0.246, 2.26], 388, 522, [0.403, 1.023], -0.12, 0.1, 0.19, 18, eCtxA, eCtxB, eMedA, eMedB);
perfLabel(832, 855, 460, 20);
A('performance for', 1173, 415);
dot(1140, 442, 6, MAROON); dot(1140, 471, 6, GOLD);
A('Ctx A trials', 1152, 442, {xanchor:'left'});
A('Ctx B trials', 1152, 471, {xanchor:'left'});
// f scatter
axes(13, 119, 258, [-0.515, 0.507], 677, 808, [-0.0557, 0.0679], spine([-0.5,0,0.5],['−0.5','0','0.5'],19,-6), spine([-0.05,0,0.05],['−0.05','0','0.05'],19));
traces.push({type:'scatter', mode:'markers', x:xs(fPts), y:ys(fPts), marker:{color:BLUE, size:4.2}, xaxis:'x13', yaxis:'y13'});
A(rValues[2], 243, 695, {size:21});
A(DELTA, 62, 747, {family:SERIF, size:24, textangle:-90});
A('context selectivity', 188, 841, {size:21});
// f strip
stripPanel(14, 367, 508, [-0.266, 2.32], 673, 807, [0.365, 1.035], -0.12, 0.1, 0.2, 16, fCtxA, fCtxB, fMedA, fMedB);
perfLabel(297, 320, 742, 20, 'context dependance');
// g scatter
axes(15, 789, 925, [-0.148, 0.124], 672, 808, [-0.0324, 0.0343], spine([-0.1,0,0.1],['−0.1','0','0.1'],19,-5), spine([-0.025,0,0.025],['-0.025','0','0.025'],18));
traces.push({type:'scatter', mode:'markers', x:xs(gPts), y:ys(gPts), marker:{color:BLUE, size:5.5}, xaxis:'x15', yaxis:'y15'});
A(rValues[3], 908, 690, {size:21});
A(DELTA, 732, 738, {family:SERIF, size:24, textangle:-90});
A('context selectivity', 849, 845, {size:21});
// g strip
stripPanel(16, 1033, 1167, [-0.27, 2.32], 670, 805, [0.347, 1.036], -0.13, 0.1, 0.18, 16, gCtxA, gCtxB, gMedA, gMedB);
perfLabel(962, 985, 738, 20);

// panel letters
[['a.',25,20],['b.',483,18],['c.',810,18],['d.',22,350],['e.',499,350],['f.',17,630],['g.',741,633]].forEach(p => A('<b>' + p[0] + '</b>', p[1], p[2], {size:25}));

traces.forEach(t => { if (t.hoverinfo === undefined) t.hoverinfo = 'skip'; t.showlegend = false; });
layout.shapes = shapes;
layout.annotations = annotations;
Plotly.newPlot('chart', traces, layout, {staticPlot:true, displayModeBar:false});
</script>
</body></html>
